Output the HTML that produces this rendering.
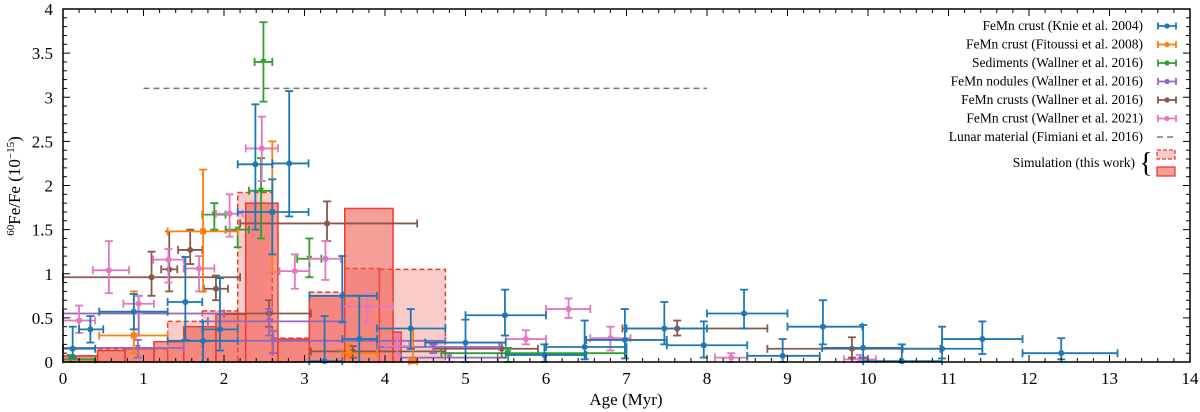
<!DOCTYPE html>
<html><head><meta charset="utf-8">
<style>
html,body{margin:0;padding:0;background:#fff;}
svg{display:block;font-family:"Liberation Serif","DejaVu Serif",serif;}
</style></head>
<body>
<svg id="chart" width="1200" height="412" viewBox="0 0 1200 412" xmlns="http://www.w3.org/2000/svg">
<g id="bars"></g>
<g id="series"></g>
<g id="axes"></g>
<g id="legend"></g>
</svg>
<script>
// ---- data ----
const dashEdges = [0,0.43,1.3,1.73,2.17,2.6,3.06,3.5,3.93,4.75];
const dashVals  = [0.07,0.15,0.46,0.58,1.92,0.27,0.79,1.06,1.05];
const solidEdges = [0,0.43,0.77,1.13,1.5,1.9,2.27,2.67,3.06,3.5,4.1,4.2];
const solidVals  = [0.07,0.13,0.15,0.23,0.40,0.54,1.80,0.26,0.75,1.74,0.34];
// [x, xlo, xhi, y, ylo, yhi]
const knie = [[0.12,0,0.4,0.15,0.05,0.4],[0.34,0.2,0.5,0.37,0.22,0.52],[0.88,0.45,1.3,0.57,0.37,0.77],[1.52,1.3,1.73,0.68,0.25,1.19],[1.74,1.3,2.17,0.24,0,0.46],[1.95,1.73,2.17,0.37,0.13,0.95],[2.39,2.17,2.6,2.24,1.5,2.92],[2.81,2.6,3.05,2.25,1.65,3.07],[2.6,2.17,3.05,1.7,1.22,2.07],[3.47,3.06,3.9,0.75,0.45,1.2],[3.68,3.47,3.9,0.26,0,0.75],[4.32,3.9,4.75,0.38,0.15,0.6],[3.25,3.06,3.47,0.01,0,0.52],[5.49,5.0,6.0,0.53,0.3,0.82],[5.0,4.5,5.5,0.22,0,0.48],[5.98,5.5,6.5,0.08,0,0.2],[6.48,6.0,7.0,0.17,0.03,0.47],[6.98,6.5,7.5,0.25,0.04,0.6],[7.47,7.0,8.0,0.38,0.2,0.68],[7.96,7.5,8.5,0.19,0.05,0.46],[8.46,8.0,9.0,0.55,0.38,0.82],[8.94,8.5,9.4,0.07,0,0.26],[9.44,9.0,9.93,0.4,0.2,0.7],[9.94,9.43,10.43,0.16,0.05,0.42],[10.42,9.94,10.92,0.01,0,0.2],[10.92,10.43,11.42,0.15,0.04,0.4],[11.42,10.92,11.92,0.26,0.09,0.46],[12.4,11.92,13.1,0.1,0.03,0.27]];
const fitoussi = [[1.74,1.3,2.17,1.48,0.8,2.18],[0.88,0.45,1.3,0.3,0.1,0.8],[2.6,2.6,2.6,1.7,1.02,2.5],[3.55,3.47,3.9,0.1,0,0.2],[4.35,4.3,4.4,0.01,0,0.38]];
const sediments = [[2.49,2.38,2.6,3.4,2.95,3.85],[2.46,2.31,2.6,1.94,1.4,2.31],[1.88,1.73,2.02,1.67,1.5,1.8],[2.17,2.02,2.31,1.5,1.3,1.5],[3.06,2.91,3.21,1.17,0.96,1.4],[0.1,0,0.4,0.03,0,0.08],[5.53,4.7,7.0,0.1,0,0.16]];
const nodules = [[0.94,0,2.0,0.55,0.3,0.75],[2.56,1.8,3.5,0.46,0.3,0.6],[2.61,1.5,4.75,0.24,0.1,0.35],[0.93,0,1.5,0.16,0.05,0.25],[4.6,3.9,5.42,0.17,0.1,0.2],[4.8,4.2,5.4,0.05,0,0.1]];
const crusts = [[1.1,0,2.2,0.96,0.75,1.25],[1.32,1.22,1.42,1.05,0.8,1.48],[1.58,1.43,1.73,1.27,1.11,1.5],[1.9,1.75,2.05,0.83,0.7,0.98],[3.28,2.2,4.4,1.57,1.37,1.82],[2.56,2.0,3.08,0.55,0.4,0.7],[3.6,3.08,4.75,0.12,0.05,0.18],[7.63,6.95,8.75,0.38,0.3,0.47],[9.8,8.75,10.9,0.15,0.05,0.28],[5.45,4.6,5.9,0.15,0.05,0.22]];
const w2021 = [[0.57,0.37,0.82,1.04,0.78,1.37],[0.2,0,0.4,0.47,0.33,0.64],[0.94,0.75,1.13,0.66,0.55,0.75],[1.31,1.12,1.5,1.16,0.9,1.28],[2.07,1.9,2.23,1.68,1.42,1.9],[1.69,1.5,1.88,1.06,0.8,1.2],[2.47,2.27,2.67,2.42,2.05,2.78],[2.88,2.69,3.06,1.03,0.83,1.22],[3.26,3.06,3.45,1.17,0.93,1.37],[3.78,3.45,4.1,0.63,0.45,0.78],[4.15,4.0,4.3,0.18,0.08,0.3],[6.28,6.0,6.55,0.6,0.5,0.72],[5.75,5.5,6.0,0.26,0.2,0.36],[6.8,6.55,7.05,0.27,0.13,0.4],[8.3,8.1,8.5,0.05,0,0.1],[9.9,9.7,10.1,0.03,0,0.08]];
const lunar = [1.0, 8.0, 3.1];
const xTicks = [0,1,2,3,4,5,6,7,8,9,10,11,12,13,14];
const yTicks = [0,0.5,1,1.5,2,2.5,3,3.5,4];
const yTickLabels = ["0","0.5","1","1.5","2","2.5","3","3.5","4"];

// ---- scales ----
const X0=63, X1=1190, Y0=362, Y1=9;
const sx = v => X0 + (X1-X0)*v/14;
const sy = v => Y0 - (Y0-Y1)*v/4;
const NS="http://www.w3.org/2000/svg";
function mk(parent, tag, attrs){const e=document.createElementNS(NS,tag);for(const k in attrs)e.setAttribute(k,attrs[k]);parent.appendChild(e);return e;}

// ---- bars ----
const gb=document.getElementById('bars');
dashVals.forEach((v,i)=>{
  const r=mk(gb,'rect',{x:sx(dashEdges[i]),y:sy(v),width:sx(dashEdges[i+1])-sx(dashEdges[i]),height:sy(0)-sy(v),fill:'rgba(240,110,100,0.35)',stroke:'#ee3b2e','stroke-width':1.5,'stroke-dasharray':'5,3'});
  
  
});
solidVals.forEach((v,i)=>{
  const r=mk(gb,'rect',{x:sx(solidEdges[i]),y:sy(v),width:sx(solidEdges[i+1])-sx(solidEdges[i]),height:sy(0)-sy(v),fill:'rgba(238,80,70,0.55)',stroke:'#ee3b2e','stroke-width':1.5});
  
  
});

// ---- lunar line ----
const gs=document.getElementById('series');
const ll=mk(gs,'line',{x1:sx(lunar[0]),x2:sx(lunar[1]),y1:sy(lunar[2]),y2:sy(lunar[2]),stroke:'#777','stroke-width':1.5,'stroke-dasharray':'6,4'});



// ---- error bars ----
function errs(data,color,name,marker){
  const g=mk(gs,'g',{stroke:color,fill:color,'stroke-width':1.8});
  
  
  data.forEach(d=>{
    const [x,xl,xh,y,yl,yh]=d;
    const cx=sx(x),cy=sy(y);
    mk(g,'line',{x1:sx(xl),x2:sx(xh),y1:cy,y2:cy});
    mk(g,'line',{x1:cx,x2:cx,y1:sy(yl),y2:sy(yh)});
    if(xh>xl){mk(g,'line',{x1:sx(xl),x2:sx(xl),y1:cy-4,y2:cy+4});mk(g,'line',{x1:sx(xh),x2:sx(xh),y1:cy-4,y2:cy+4});}
    if(yh>yl){mk(g,'line',{x1:cx-4,x2:cx+4,y1:sy(yl),y2:sy(yl)});mk(g,'line',{x1:cx-4,x2:cx+4,y1:sy(yh),y2:sy(yh)});}
    let m;
    if(marker==='s') m=mk(g,'rect',{x:cx-3,y:cy-3,width:6,height:6,stroke:'none'});
    else if(marker==='t') m=mk(g,'path',{d:`M${cx-3} ${cy-3}L${cx+3} ${cy-3}L${cx} ${cy+3}Z`,stroke:'none'});
    else m=mk(g,'circle',{cx:cx,cy:cy,r:3,stroke:'none'});
    
    
  });
}
errs(crusts,'#8c564b','series-wallner-crusts-2016','o');
errs(nodules,'#9467bd','series-wallner-nodules-2016','t');
errs(sediments,'#2ca02c','series-wallner-sediments-2016','t');
errs(w2021,'#e377c2','series-wallner-2021','o');
errs(fitoussi,'#ff7f0e','series-fitoussi-2008','s');
errs(knie,'#1f77b4','series-knie-2004','o');

// ---- axes ----
const ga=document.getElementById('axes');
const frame=mk(ga,'rect',{x:X0,y:Y1,width:X1-X0,height:Y0-Y1,fill:'none',stroke:'#000','stroke-width':1.5});


for(let i=0;i<=70;i++){
  const v=i*0.2, major=(i%5===0), L=major?7:4, x=sx(v);
  mk(ga,'line',{x1:x,x2:x,y1:Y0,y2:Y0-L,stroke:'#000','stroke-width':1});
  mk(ga,'line',{x1:x,x2:x,y1:Y1,y2:Y1+L,stroke:'#000','stroke-width':1});
}
for(let i=0;i<=40;i++){
  const v=i*0.1, major=(i%5===0), L=major?7:4, y=sy(v);
  mk(ga,'line',{x1:X0,x2:X0+L,y1:y,y2:y,stroke:'#000','stroke-width':1});
  mk(ga,'line',{x1:X1,x2:X1-L,y1:y,y2:y,stroke:'#000','stroke-width':1});
}
xTicks.forEach(v=>{
  const t=mk(ga,'text',{x:sx(v),y:384,'text-anchor':'middle','font-size':17});
  t.textContent=v;
  
  
});
yTicks.forEach((v,i)=>{
  const t=mk(ga,'text',{x:53,y:sy(v)+6,'text-anchor':'end','font-size':17});
  t.textContent=yTickLabels[i];
  
  
});
const xt=mk(ga,'text',{x:626,y:405,'text-anchor':'middle','font-size':17});
xt.textContent='Age (Myr)';


const yt=mk(ga,'text',{x:0,y:0,'text-anchor':'middle','font-size':17,transform:'translate(20,186) rotate(-90)'});
yt.innerHTML='<tspan font-size="11" dy="-6">60</tspan><tspan dy="6">Fe/Fe (10</tspan><tspan font-size="11" dy="-6">−15</tspan><tspan dy="6">)</tspan>';



// ---- legend ----
const gl=document.getElementById('legend');
const legLabels=['FeMn crust (Knie et al. 2004)','FeMn crust (Fitoussi et al. 2008)','Sediments (Wallner et al. 2016)','FeMn nodules (Wallner et al. 2016)','FeMn crusts (Wallner et al. 2016)','FeMn crust (Wallner et al. 2021)','Lunar material (Fimiani et al. 2016)'];
const legColors=['#1f77b4','#ff7f0e','#2ca02c','#9467bd','#8c564b','#e377c2','#777'];
legLabels.forEach((s,i)=>{
  const y=26+i*18.5;
  const t=mk(gl,'text',{x:1143,y:y+4,'text-anchor':'end','font-size':13.5});
  t.textContent=s;
  
  
  const c=legColors[i];
  if(i<6){
    mk(gl,'line',{x1:1158,x2:1176,y1:y,y2:y,stroke:c,'stroke-width':1.8});
    mk(gl,'line',{x1:1158,x2:1158,y1:y-3.5,y2:y+3.5,stroke:c,'stroke-width':1.8});
    mk(gl,'line',{x1:1176,x2:1176,y1:y-3.5,y2:y+3.5,stroke:c,'stroke-width':1.8});
    mk(gl,'circle',{cx:1167,cy:y,r:2.6,fill:c});
  } else {
    mk(gl,'line',{x1:1157,x2:1177,y1:y,y2:y,stroke:c,'stroke-width':1.5,'stroke-dasharray':'6,4'});
  }
});
const st=mk(gl,'text',{x:1135,y:167,'text-anchor':'end','font-size':13.5});
st.textContent='Simulation (this work)';


const br=mk(gl,'text',{x:1146,y:172,'text-anchor':'middle','font-size':28});
br.textContent='{';
mk(gl,'rect',{x:1157,y:150,width:18,height:9,fill:'rgba(240,110,100,0.35)',stroke:'#ee3b2e','stroke-width':1.3,'stroke-dasharray':'4,2'});
mk(gl,'rect',{x:1157,y:167,width:18,height:9,fill:'rgba(238,80,70,0.55)',stroke:'#ee3b2e','stroke-width':1.3});
</script>
</body></html>
